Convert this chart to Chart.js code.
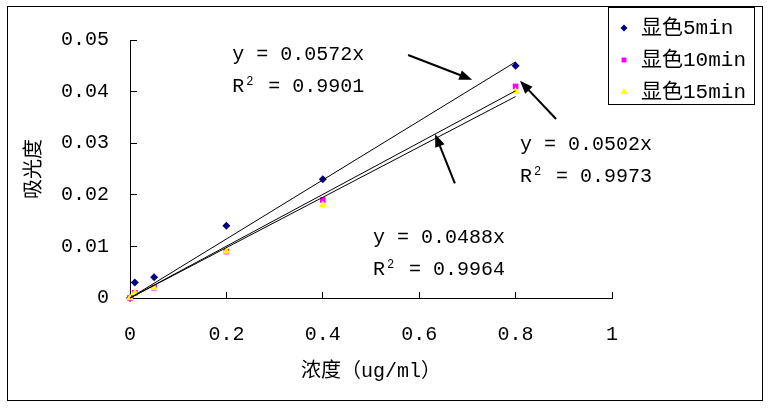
<!DOCTYPE html>
<html>
<head>
<meta charset="utf-8">
<script src="https://cdn.jsdelivr.net/npm/chart.js@4.4.0/dist/chart.umd.min.js"></script>
<style>
  body { margin: 0; background: #fff; }
  #wrap { width: 771px; height: 408px; position: relative; }
</style>
</head>
<body>
<div id="wrap"><canvas id="chart"></canvas></div>
<script>
// data
const concentrations = [0, 0.01, 0.05, 0.2, 0.4, 0.8];
const abs5min = [0, 0.003, 0.004, 0.014, 0.023, 0.045];
const abs10min = [0, 0.001, 0.002, 0.009, 0.019, 0.041];
const abs15min = [0, 0.001, 0.002, 0.009, 0.018, 0.040];
const seriesNames = ['显色5min', '显色10min', '显色15min'];
const slopes = [0.0572, 0.0502, 0.0488];
const rSquared = [0.9901, 0.9973, 0.9964];
const xTicks = [0, 0.2, 0.4, 0.6, 0.8, 1];
const yTicks = [0, 0.01, 0.02, 0.03, 0.04, 0.05];

// styling, kept apart from the data
const FONT = "'Liberation Mono', 'Noto Sans CJK SC', monospace";
const colors = ['#000080', '#ff00ff', '#ffff00'];
const shapes = ['rectRot', 'rect', 'triangle'];
const radii = [4, 4, 4.5];

// equation labels and arrows, in data units
const eqX = [0.212, 0.809, 0.504];
const eqY = [0.0471, 0.0297, 0.0117];
const arrowFrom = [[0.577, 0.0471], [0.884, 0.0347], [0.674, 0.0222]];
const arrowTo = [[0.710, 0.0423], [0.809, 0.0421], [0.633, 0.0318]];

Chart.defaults.font.family = FONT;
Chart.defaults.font.size = 20;
Chart.defaults.color = '#000';

const allSeries = [abs5min, abs10min, abs15min];

function toPoints(xs, ys) {
    return xs.map((v, i) => ({ x: v, y: ys[i] }));
}

function trendLine(slope) {
    const xMax = Math.max(...concentrations);
    return [{ x: 0, y: 0 }, { x: xMax, y: slope * xMax }];
}

const datasets = [];
slopes.forEach((s, i) => {
    datasets.push({
        type: 'line',
        data: trendLine(s),
        borderColor: '#000',
        borderWidth: 1,
        pointRadius: 0,
        fill: false,
        clip: false,
        order: 0
    });
});
allSeries.forEach((vals, i) => {
    datasets.push({
        label: seriesNames[i],
        data: toPoints(concentrations, vals),
        pointStyle: shapes[i],
        pointRadius: radii[i],
        backgroundColor: colors[i],
        borderColor: colors[i],
        borderWidth: 0,
        clip: false,
        order: 3 - i   // later series drawn on top, like the original
    });
});

function drawMarker(ctx, shape, r, x, y, color) {
    ctx.fillStyle = color;
    ctx.beginPath();
    if (shape === 'rectRot') {
        ctx.moveTo(x, y - r); ctx.lineTo(x + r, y); ctx.lineTo(x, y + r); ctx.lineTo(x - r, y);
    } else if (shape === 'rect') {
        const s = r * Math.SQRT1_2;
        ctx.rect(x - s, y - s, 2 * s, 2 * s);
    } else {
        ctx.moveTo(x, y - r); ctx.lineTo(x + r * 0.87, y + r / 2); ctx.lineTo(x - r * 0.87, y + r / 2);
    }
    ctx.closePath();
    ctx.fill();
}

function drawArrow(ctx, x1, y1, x2, y2) {
    const ang = Math.atan2(y2 - y1, x2 - x1);
    const len = 13, half = 5;
    ctx.lineWidth = 2;
    ctx.beginPath();
    ctx.moveTo(x1, y1);
    ctx.lineTo(x2 - Math.cos(ang) * len * 0.8, y2 - Math.sin(ang) * len * 0.8);
    ctx.stroke();
    ctx.beginPath();
    ctx.moveTo(x2, y2);
    ctx.lineTo(x2 - Math.cos(ang) * len - Math.sin(ang) * half, y2 - Math.sin(ang) * len + Math.cos(ang) * half);
    ctx.lineTo(x2 - Math.cos(ang) * len + Math.sin(ang) * half, y2 - Math.sin(ang) * len - Math.cos(ang) * half);
    ctx.closePath();
    ctx.fill();
}

const decorPlugin = {
    id: 'decor',
    afterDraw(chart) {
        const { ctx, scales: { x, y } } = chart;
        ctx.save();
        ctx.strokeStyle = '#000';
        ctx.fillStyle = '#000';
        ctx.lineWidth = 1;
        // outer frame
        ctx.strokeRect(7.5, 6.5, 755, 394);

        // trendline equations
        ctx.textBaseline = 'middle';
        ctx.textAlign = 'left';
        slopes.forEach((s, i) => {
            const px = x.getPixelForValue(eqX[i]);
            const py = y.getPixelForValue(eqY[i]);
            ctx.font = '20px ' + FONT;
            ctx.fillText('y = ' + s + 'x', px, py);
            ctx.fillText('R', px, py + 32);
            ctx.fillText(' = ' + rSquared[i], px + 24, py + 32);
            ctx.font = '12px ' + FONT;
            ctx.fillText('2', px + 14, py + 27);
        });

        // arrows
        arrowFrom.forEach((f, i) => {
            const t = arrowTo[i];
            drawArrow(ctx, x.getPixelForValue(f[0]), y.getPixelForValue(f[1]),
                x.getPixelForValue(t[0]), y.getPixelForValue(t[1]));
        });

        // legend box
        ctx.lineWidth = 1;
        ctx.fillStyle = '#fff';
        ctx.fillRect(608.5, 7.5, 146, 97);
        ctx.strokeRect(608.5, 7.5, 146, 97);
        ctx.font = '21px ' + FONT;
        seriesNames.forEach((name, i) => {
            const ly = 28 + i * 32;
            drawMarker(ctx, shapes[i], radii[i] - 0.5, 624, ly, colors[i]);
            ctx.fillStyle = '#000';
            ctx.fillText(name, 641, ly);
        });
        ctx.restore();
    }
};

function fmt(v) {
    return String(Number(v.toFixed(3)));
}

new Chart(document.getElementById('chart'), {
    type: 'scatter',
    data: { datasets: datasets },
    options: {
        responsive: true,
        maintainAspectRatio: false,
        animation: false,
        layout: { padding: { left: 0, top: 37, right: 159, bottom: 0 } },
        plugins: {
            legend: { display: false },
            tooltip: { enabled: false }
        },
        scales: {
            x: {
                type: 'linear',
                min: 0,
                max: 1,
                afterBuildTicks: s => { s.ticks = xTicks.map(v => ({ value: v })); },
                afterFit: s => { s.height = 110; },
                ticks: { padding: 31, callback: v => fmt(v), maxRotation: 0, autoSkip: false },
                grid: { drawOnChartArea: false, color: '#000', tickLength: -6 },
                border: { color: '#000', width: 1 },
                title: { display: true, text: '浓度（ug/ml）', font: { size: 20 }, padding: { bottom: 24 } }
            },
            y: {
                type: 'linear',
                min: 0,
                max: 0.05,
                afterBuildTicks: s => { s.ticks = yTicks.map(v => ({ value: v })); },
                afterFit: s => { s.width = 130; },
                ticks: { padding: 28, callback: v => fmt(v), autoSkip: false },
                grid: { drawOnChartArea: false, color: '#000', tickLength: -7 },
                border: { color: '#000', width: 1 },
                title: { display: true, text: '吸光度', font: { size: 20 }, padding: { top: 23 } }
            }
        }
    },
    plugins: [decorPlugin]
});
</script>
</body>
</html>
